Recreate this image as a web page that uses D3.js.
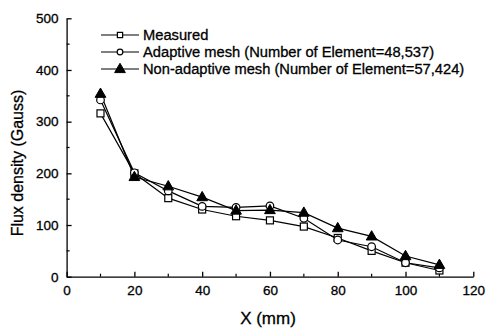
<!DOCTYPE html>
<html lang="en">
<head>
<meta charset="utf-8">
<script src="https://cdn.jsdelivr.net/npm/d3@7"></script>
<style>
  body { margin: 0; background: #fff; }
  text { font-family: "Liberation Sans", Arial, sans-serif; fill: #000; stroke: #000; stroke-width: 0.3px; }
</style>
</head>
<body>
<svg width="496" height="329"></svg>
<script>
// data
var xs = [10, 20, 30, 40, 50, 60, 70, 80, 90, 100, 110];
var measured = [316, 200, 152, 130, 117, 109, 97, 75, 50, 27, 12];
var adaptive = [342, 201, 166, 136, 134, 137, 113, 71, 58, 27, 17];
var nonAdaptive = [354, 193, 175, 154, 128, 129, 124, 94, 78, 40, 23];
var seriesNames = ["Measured", "Adaptive mesh (Number of Element=48,537)", "Non-adaptive mesh (Number of Element=57,424)"];
var xTicks = [0, 20, 40, 60, 80, 100, 120];
var yTicks = [0, 100, 200, 300, 400, 500];

var svg = d3.select("svg");
var x = d3.scaleLinear().domain([0, 120]).range([66.6, 473.3]);
var y = d3.scaleLinear().domain([0, 500]).range([276.7, 18.3]);

// axes, ticks point inward
var xAxis = d3.axisBottom(x).tickValues(xTicks).tickSize(-5).tickPadding(9).tickSizeOuter(0);
var gx = svg.append("g").attr("transform", "translate(0," + y(0) + ")").call(xAxis);
var yAxis = d3.axisLeft(y).tickValues(yTicks).tickSize(-5).tickPadding(8).tickSizeOuter(0);
var gy = svg.append("g").attr("transform", "translate(" + x(0) + ",0)").call(yAxis);
[gx, gy].forEach(function(g) {
  g.selectAll("path, line").attr("stroke", "#000").attr("stroke-width", 1.3);
  g.selectAll("text").attr("font-size", 13.5).attr("font-family", "Liberation Sans, Arial, sans-serif").attr("fill", "#000");
});

// minor ticks
var minorX = d3.range(10, 120, 20);
svg.append("g").selectAll("line").data(minorX).enter().append("line")
  .attr("x1", function(d) { return x(d); }).attr("x2", function(d) { return x(d); })
  .attr("y1", y(0)).attr("y2", y(0) - 3)
  .attr("stroke", "#000").attr("stroke-width", 1.2);
var minorY = d3.range(50, 500, 100);
svg.append("g").selectAll("line").data(minorY).enter().append("line")
  .attr("x1", x(0)).attr("x2", x(0) + 3)
  .attr("y1", function(d) { return y(d); }).attr("y2", function(d) { return y(d); })
  .attr("stroke", "#000").attr("stroke-width", 1.2);

// axis titles
svg.append("text").attr("x", 268).attr("y", 324)
  .attr("text-anchor", "middle").attr("font-size", 17).text("X (mm)");
svg.append("text").attr("transform", "translate(23,163) rotate(-90)")
  .attr("text-anchor", "middle").attr("font-size", 16).text("Flux density (Gauss)");

var series = [
  { name: seriesNames[0], vals: measured, sym: "square" },
  { name: seriesNames[1], vals: adaptive, sym: "circle" },
  { name: seriesNames[2], vals: nonAdaptive, sym: "triangle" }
];

var line = d3.line().x(function(d) { return x(d[0]); }).y(function(d) { return y(d[1]); });

function marker(g, sym, cx, cy, k) {
  k = k || 1;
  if (sym === "square") {
    g.append("rect").attr("x", cx - 3.5 * k).attr("y", cy - 3.5 * k).attr("width", 7 * k).attr("height", 7 * k)
      .attr("fill", "#fff").attr("stroke", "#000").attr("stroke-width", 1.2);
  } else if (sym === "circle") {
    g.append("circle").attr("cx", cx).attr("cy", cy).attr("r", 3.8 * k)
      .attr("fill", "#fff").attr("stroke", "#000").attr("stroke-width", 1.2);
  } else {
    g.append("path").attr("d", d3.symbol().type(d3.symbolTriangle).size(50 * k * k)())
      .attr("transform", "translate(" + cx + "," + (cy + 0.5) + ")")
      .attr("fill", "#000").attr("stroke", "#000");
  }
}

series.forEach(function(s) {
  var pts = xs.map(function(v, i) { return [v, s.vals[i]]; });
  svg.append("path").datum(pts).attr("d", line)
    .attr("fill", "none").attr("stroke", "#000").attr("stroke-width", 1.2);
});
series.forEach(function(s) {
  var g = svg.append("g");
  xs.forEach(function(v, i) { marker(g, s.sym, x(v), y(s.vals[i])); });
});

// legend
var legY = [35, 52, 69];
series.forEach(function(s, i) {
  var g = svg.append("g");
  g.append("line").attr("x1", 101).attr("x2", 139).attr("y1", legY[i]).attr("y2", legY[i])
    .attr("stroke", "#000").attr("stroke-width", 1.2);
  marker(g, s.sym, 120, legY[i], s.sym === "triangle" ? 1 : 0.75);
  g.append("text").attr("x", 143).attr("y", legY[i] + 5).attr("font-size", 14.7).text(s.name);
});
</script>
</body>
</html>
